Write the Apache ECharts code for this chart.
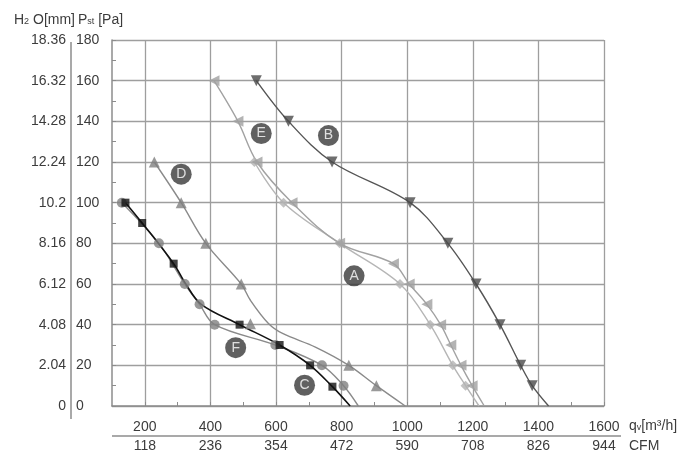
<!DOCTYPE html>
<html><head><meta charset="utf-8">
<script src="https://cdn.jsdelivr.net/npm/echarts@6/dist/echarts.min.js"></script>
<style>html,body{margin:0;padding:0;background:#fff}#c{width:700px;height:468px}</style>
</head><body><div id="c"></div>
<script>
// ---- tick labels ----
const qLabels = ['200','400','600','800','1000','1200','1400','1600'];
const cfmLabels = ['118','236','354','472','590','708','826','944'];
const paLabels = ['0','20','40','60','80','100','120','140','160','180'];
const h2oLabels = ['0','2.04','4.08','6.12','8.16','10.2','12.24','14.28','16.32','18.36'];

// ---- curves: [qv m3/h, Pst Pa] ----
const lineA = [[534,120],[623,100],[794,80],[978,60],[1070,40],[1139,20],[1178,10],[1219,0]];
const marksA = [[534,120],[623,100],[794,80],[978,60],[1070,40],[1139,20],[1178,10]];

const lineB = [[540,160],[638,140],[771,120],[1009,100],[1124,80],[1210,60],[1283,40],[1346,20],[1381,10],[1431,0]];
const marksB = [[540,160],[638,140],[771,120],[1009,100],[1124,80],[1210,60],[1283,40],[1346,20],[1381,10]];

const lineC = [[141,100],[192,90],[288,70],[325,60],[372,50],[489,40],[611,30],[704,20],[772,9.5],[826,0]];
const marksC = [[141,100],[192,90],[288,70],[489,40],[611,30],[704,20],[772,9.5]];

const lineD = [[229,120],[311,100],[386,80],[494,60],[522,52],[577,40.6],[620,35.7],[720,29],[822,20],[906,10],[994,0]];
const marksD = [[229,120],[311,100],[386,80],[494,60],[522,40.5],[822,20],[906,10]];

const lineE = [[411,160],[484,140],[542,120],[649,100],[794,80],[958,70],[1006,60],[1060,50],[1102,40],[1133,30],[1164,20],[1198,10],[1235,0]];
const marksE = [[411,160],[484,140],[542,120],[649,100],[794,80],[958,70],[1006,60],[1060,50],[1102,40],[1133,30],[1164,20],[1198,10]];

const lineF = [[130,100],[243,80],[322,60],[367,50],[413,40],[598,30],[740,20],[806,10],[851,0]];
const marksF = [[130,100],[243,80],[322,60],[367,50],[413,40],[598,30],[740,20],[806,10]];

// ---- curve tags: [letter, qv, Pst] ----
const tags = [['B',760,133],['E',555,134],['D',311,114],['A',838,64],['F',477,28.7],['C',687,10.2]];

const FONT = 'Liberation Sans, Arial, Helvetica, sans-serif';
const TXT = '#3c3c3c';
const GRID = '#9e9e9e';
const FS = 14;

function curve(data, color, width) {
  return {type:'line', data, smooth:0.35, symbol:'none', showSymbol:false,
    lineStyle:{color, width}, z:2, silent:true};
}
function marks(data, color, symbol, size, rotate) {
  return {type:'scatter', data, symbol, symbolSize:size, symbolRotate:rotate||0,
    itemStyle:{color}, z:3, silent:true};
}
const lbl = (extra) => Object.assign({fontSize:FS, color:TXT, fontFamily:FONT, hideOverlap:false,
  showMinLabel:true, showMaxLabel:true}, extra);

const chart = echarts.init(document.getElementById('c'), null, {renderer:'canvas'});
chart.setOption({
  animation:false,
  backgroundColor:'#fff',
  textStyle:{fontFamily:FONT},
  grid:{left:112, right:96, top:40, bottom:62, containLabel:false, outerBoundsMode:'none'},
  xAxis:[
    {type:'value', min:100, max:1600, interval:100, position:'bottom',
     axisLine:{show:true, onZero:false, lineStyle:{color:'#8c8c8c', width:1.5}},
     axisTick:{show:true, inside:true, length:4, lineStyle:{color:'#8c8c8c'}},
     splitLine:{show:true, lineStyle:{color:['rgba(0,0,0,0)', GRID], width:1.3}},
     axisLabel:lbl({margin:14, showMinLabel:false, formatter:v => (v % 200 === 0 ? qLabels[v/200 - 1] : '')})},
    {type:'value', min:100, max:1600, interval:100, position:'bottom', offset:30,
     axisLine:{show:false, onZero:false}, axisTick:{show:false}, splitLine:{show:false},
     axisLabel:lbl({margin:3, showMinLabel:false, formatter:v => (v % 200 === 0 ? cfmLabels[v/200 - 1] : '')})}
  ],
  yAxis:[
    {type:'value', min:0, max:180, interval:10, position:'left',
     axisLine:{show:true, onZero:false, lineStyle:{color:'#8c8c8c', width:1.5}},
     axisTick:{show:true, inside:true, length:4, lineStyle:{color:'#8c8c8c'}},
     splitLine:{show:true, lineStyle:{color:[GRID, 'rgba(0,0,0,0)'], width:1.3}},
     axisLabel:lbl({margin:36, align:'left', formatter:v => (v % 20 === 0 ? paLabels[v/20] : '')})},
    {type:'value', min:0, max:180, interval:10, position:'left', offset:41,
     axisLine:{show:false, onZero:false}, axisTick:{show:false}, splitLine:{show:false},
     axisLabel:lbl({margin:5, formatter:v => (v % 20 === 0 ? h2oLabels[v/20] : '')})}
  ],
  graphic:[
    {type:'line', shape:{x1:71, y1:42, x2:71, y2:419}, style:{stroke:'#8c8c8c', lineWidth:1.5}, silent:true},
    {type:'line', shape:{x1:112, y1:436, x2:621, y2:436}, style:{stroke:'#8c8c8c', lineWidth:1.5}, silent:true},
    {type:'text', x:14, y:20, silent:true,
     style:{text:'H{s|2} O[mm]', fontSize:FS, fontFamily:FONT, fill:TXT, verticalAlign:'middle',
       rich:{s:{fontSize:9, fontFamily:FONT, fill:TXT, padding:[4,0,0,0]}}}},
    {type:'text', x:78, y:20, silent:true,
     style:{text:'P{s|st} [Pa]', fontSize:FS, fontFamily:FONT, fill:TXT, verticalAlign:'middle',
       rich:{s:{fontSize:9, fontFamily:FONT, fill:TXT, padding:[4,0,0,0]}}}},
    {type:'text', x:629, y:426, silent:true,
     style:{text:'q{s|v}[m³/h]', fontSize:FS, fontFamily:FONT, fill:TXT, verticalAlign:'middle',
       rich:{s:{fontSize:9, fontFamily:FONT, fill:TXT, padding:[4,0,0,0]}}}},
    {type:'text', x:629, y:446, silent:true,
     style:{text:'CFM', fontSize:FS, fontFamily:FONT, fill:TXT, verticalAlign:'middle'}}
  ],
  series:[
    curve(lineA, '#b6b6b6', 1.4),
    curve(lineE, '#a2a2a2', 1.4),
    curve(lineD, '#8a8a8a', 1.4),
    curve(lineF, '#8a8a8a', 1.4),
    curve(lineB, '#555555', 1.4),
    curve(lineC, '#111111', 1.6),
    marks(marksA, '#b3b3b3', 'diamond', 10),
    marks(marksE, '#a0a0a0', 'triangle', 11, 90),
    marks(marksD, '#808080', 'triangle', 11),
    marks(marksF, '#808080', 'circle', 10),
    marks(marksB, '#4a4a4a', 'triangle', 11, 180),
    marks(marksC, '#111111', 'rect', 8),
    {type:'scatter', z:4, silent:true, symbol:'circle', symbolSize:21,
     itemStyle:{color:'#383838'},
     data: tags.map(t => ({name:t[0], value:[t[1], t[2]]})),
     label:{show:true, position:'inside', formatter:'{b}', color:'#fff', fontSize:14, fontFamily:FONT}}
  ]
});
</script></body></html>
